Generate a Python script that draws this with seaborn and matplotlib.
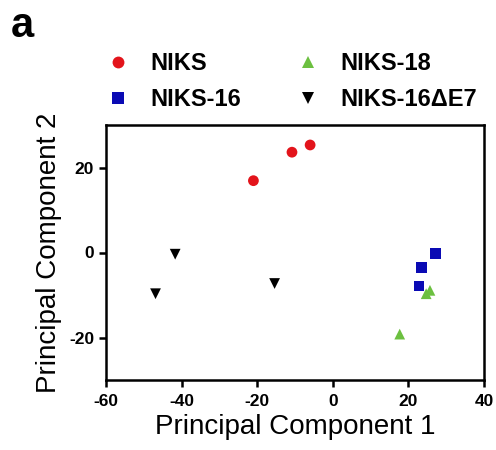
import matplotlib
matplotlib.use("Agg")
import matplotlib.pyplot as plt
import seaborn as sns
import pandas as pd

groups = ["NIKS", "NIKS-16", "NIKS-18", "NIKS-16ΔE7"]
niks_pc1 = [-21.0, -10.8, -6.0]
niks_pc2 = [16.9, 23.6, 25.3]
niks16_pc1 = [27.2, 23.4, 22.8]
niks16_pc2 = [-0.2, -3.5, -7.9]
niks18_pc1 = [17.7, 24.7, 25.7]
niks18_pc2 = [-19.2, -9.7, -8.9]
de7_pc1 = [-46.9, -41.7, -15.4]
de7_pc2 = [-9.7, -0.4, -7.3]
x_ticks = [-60, -40, -20, 0, 20, 40]
y_ticks = [-20, 0, 20]

rows = []
for g, xs, ys in zip(groups,
                     [niks_pc1, niks16_pc1, niks18_pc1, de7_pc1],
                     [niks_pc2, niks16_pc2, niks18_pc2, de7_pc2]):
    for x, y in zip(xs, ys):
        rows.append({"PC1": x, "PC2": y, "group": g})
df = pd.DataFrame(rows)

sns.set_style("ticks")
plt.rcParams["font.family"] = ["Liberation Sans", "DejaVu Sans"]
plt.rcParams["axes.unicode_minus"] = False
plt.rcParams["text.color"] = "black"
plt.rcParams["axes.labelcolor"] = "black"
plt.rcParams["xtick.color"] = "black"
plt.rcParams["ytick.color"] = "black"

palette = {"NIKS": "#e3141b", "NIKS-16": "#0a0ab4", "NIKS-18": "#6cc040", "NIKS-16ΔE7": "#000000"}
markers = {"NIKS": "o", "NIKS-16": "s", "NIKS-18": "^", "NIKS-16ΔE7": "v"}

fig = plt.figure(figsize=(4.96, 4.5), dpi=100)
ax = fig.add_axes([106 / 496, 1 - 380 / 450, 378 / 496, 255 / 450])
sns.scatterplot(data=df, x="PC1", y="PC2", hue="group", style="group",
                hue_order=groups, style_order=groups,
                palette=palette, markers=markers, s=60, linewidth=0,
                ax=ax, legend=True)

ax.set_xlim(-60, 40)
ax.set_ylim(-30, 30)
ax.set_xticks(x_ticks)
ax.set_yticks(y_ticks)
for sp in ax.spines.values():
    sp.set_linewidth(1.8)
    sp.set_color("black")
ax.tick_params(direction="out", length=5, width=1.8, labelsize=12.5)
ax.tick_params(axis="x", pad=5)
ax.tick_params(axis="y", pad=3.5)
for lab in ax.get_xticklabels() + ax.get_yticklabels():
    lab.set_fontweight("bold")
ax.set_xlabel("Principal Component 1", fontsize=20, labelpad=4)
ax.set_ylabel("Principal Component 2", fontsize=20, labelpad=5)

handles, labels = ax.get_legend_handles_labels()
ax.legend(handles, labels, ncol=2, loc="upper left",
          bbox_to_anchor=(94 / 496, 1 - 40 / 450), bbox_transform=fig.transFigure,
          frameon=False, prop={"weight": "bold", "size": 17},
          borderpad=0, handlelength=1.0, handletextpad=0.9,
          columnspacing=2.3, labelspacing=0.55, markerscale=1.1)

fig.text(0.022, 1 - 37 / 450, "a", fontsize=30, fontweight="bold")

fig.savefig("out.png", dpi=100)
